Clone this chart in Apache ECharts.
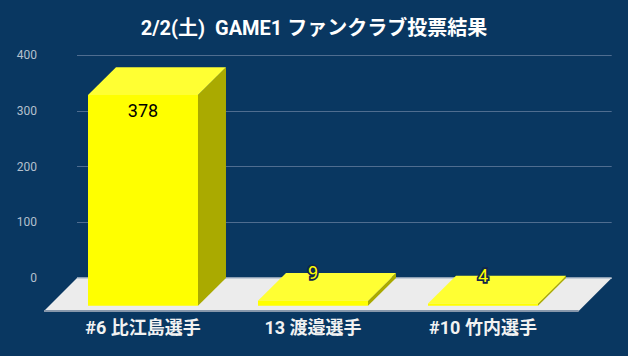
<!DOCTYPE html>
<html>
<head>
<meta charset="utf-8">
<script src="https://cdn.jsdelivr.net/npm/echarts@6/dist/echarts.min.js"></script>
<style>
html,body{margin:0;padding:0;background:#093761;}
#chart{width:628px;height:356px;}
</style>
</head>
<body>
<div id="chart"></div>
<script>
// ---- data ----
const titleText = '2/2(土)  GAME1 ファンクラブ投票結果';
const categories = ['#6 比江島選手', '13 渡邉選手', '#10 竹内選手'];
const votes = [378, 9, 4];
const yMin = 0;
const yMax = 400;
const yStep = 100;

// ---- style constants ----
const FONT = 'Roboto, "Noto Sans CJK JP", sans-serif';
const DX = 28, DY = 27.7;       // bar depth offset
const FLOOR_D = 33;             // floor depth
const BAR_RATIO = 0.647;

const chart = echarts.init(document.getElementById('chart'), null, {renderer: 'svg'});

function renderBar(params, api) {
  const i = api.value(0);
  const v = api.value(1);
  const top = api.coord([i, v]);
  const bot = api.coord([i, 0]);
  const bw = api.size([1, 0])[0] * BAR_RATIO;
  const cx = top[0];
  const x0 = cx - bw / 2, x1 = cx + bw / 2;
  const yt = top[1], yb = bot[1];
  const children = [
    {type: 'polygon', shape: {points: [[x1, yt], [x1 + DX, yt - DY], [x1 + DX, yb - DY], [x1, yb]]},
     style: {fill: '#aaaa00'}},
    {type: 'polygon', shape: {points: [[x0, yt], [x1, yt], [x1 + DX, yt - DY], [x0 + DX, yt - DY]]},
     style: {fill: '#ffff33'}},
    {type: 'rect', shape: {x: x0, y: yt, width: bw, height: yb - yt},
     style: {fill: '#ffff00'}}
  ];
  const inside = (yb - yt) > 40;
  children.push({
    type: 'text',
    x: cx, y: inside ? yt + 16 : yt - DY,
    style: inside ? {
      text: String(v), fill: '#000000', font: '18px ' + FONT,
      align: 'center', verticalAlign: 'middle'
    } : {
      text: String(v), fill: '#ffff00', stroke: '#13254a', lineWidth: 3.5, strokeFirst: true,
      font: '18px ' + FONT, align: 'center', verticalAlign: 'middle'
    },
    z2: 10
  });
  return {type: 'group', children: children};
}

function renderFloor(params, api) {
  const cs = params.coordSys;
  const z = api.coord([0, 0])[1];
  const l = cs.x, r = cs.x + cs.width;
  return {type: 'group', children: [
    {type: 'polygon', shape: {points: [[l - FLOOR_D, z + FLOOR_D], [r - FLOOR_D, z + FLOOR_D], [r, z], [l, z]]},
     style: {fill: '#ececec'}},
    {type: 'line', shape: {x1: l - FLOOR_D, y1: z + FLOOR_D, x2: r - FLOOR_D, y2: z + FLOOR_D},
     style: {stroke: '#8797ab', lineWidth: 2}},
    {type: 'line', shape: {x1: l, y1: z, x2: r, y2: z},
     style: {stroke: '#b9c3d0', lineWidth: 1.5}}
  ]};
}

chart.setOption({
  backgroundColor: '#093761',
  animation: false,
  title: {
    text: titleText,
    left: 'center',
    top: 16,
    padding: 0,
    textStyle: {color: '#ffffff', fontSize: 20, fontWeight: 'bold', fontFamily: FONT, lineHeight: 24}
  },
  grid: [
    {left: 58, right: 60, top: 82.7, bottom: 50.3},
    {left: 77, right: 16.3, top: 55.3, bottom: 78}
  ],
  xAxis: [
    {type: 'category', gridIndex: 0, data: categories,
     axisLine: {show: false}, axisTick: {show: false}, splitLine: {show: false},
     axisLabel: {color: '#f2f2f2', fontSize: 18, fontWeight: 'bold', fontFamily: FONT, margin: 13}},
    {type: 'value', gridIndex: 1, min: 0, max: 1, show: false}
  ],
  yAxis: [
    {type: 'value', gridIndex: 0, min: yMin, max: yMax, interval: yStep, show: false},
    {type: 'value', gridIndex: 1, min: yMin, max: yMax, interval: yStep,
     axisLine: {show: false}, axisTick: {show: false},
     splitLine: {lineStyle: {color: '#4f6d90', width: 1}},
     axisLabel: {color: '#b4c0ce', fontSize: 12, fontFamily: FONT, margin: 40}}
  ],
  series: [
    {type: 'custom', xAxisIndex: 1, yAxisIndex: 1, z: 1, silent: true,
     renderItem: renderFloor, data: [[0, 0]]},
    {type: 'custom', xAxisIndex: 0, yAxisIndex: 0, z: 2,
     renderItem: renderBar,
     data: votes.map((v, i) => [i, v])}
  ]
});
</script>
</body>
</html>
